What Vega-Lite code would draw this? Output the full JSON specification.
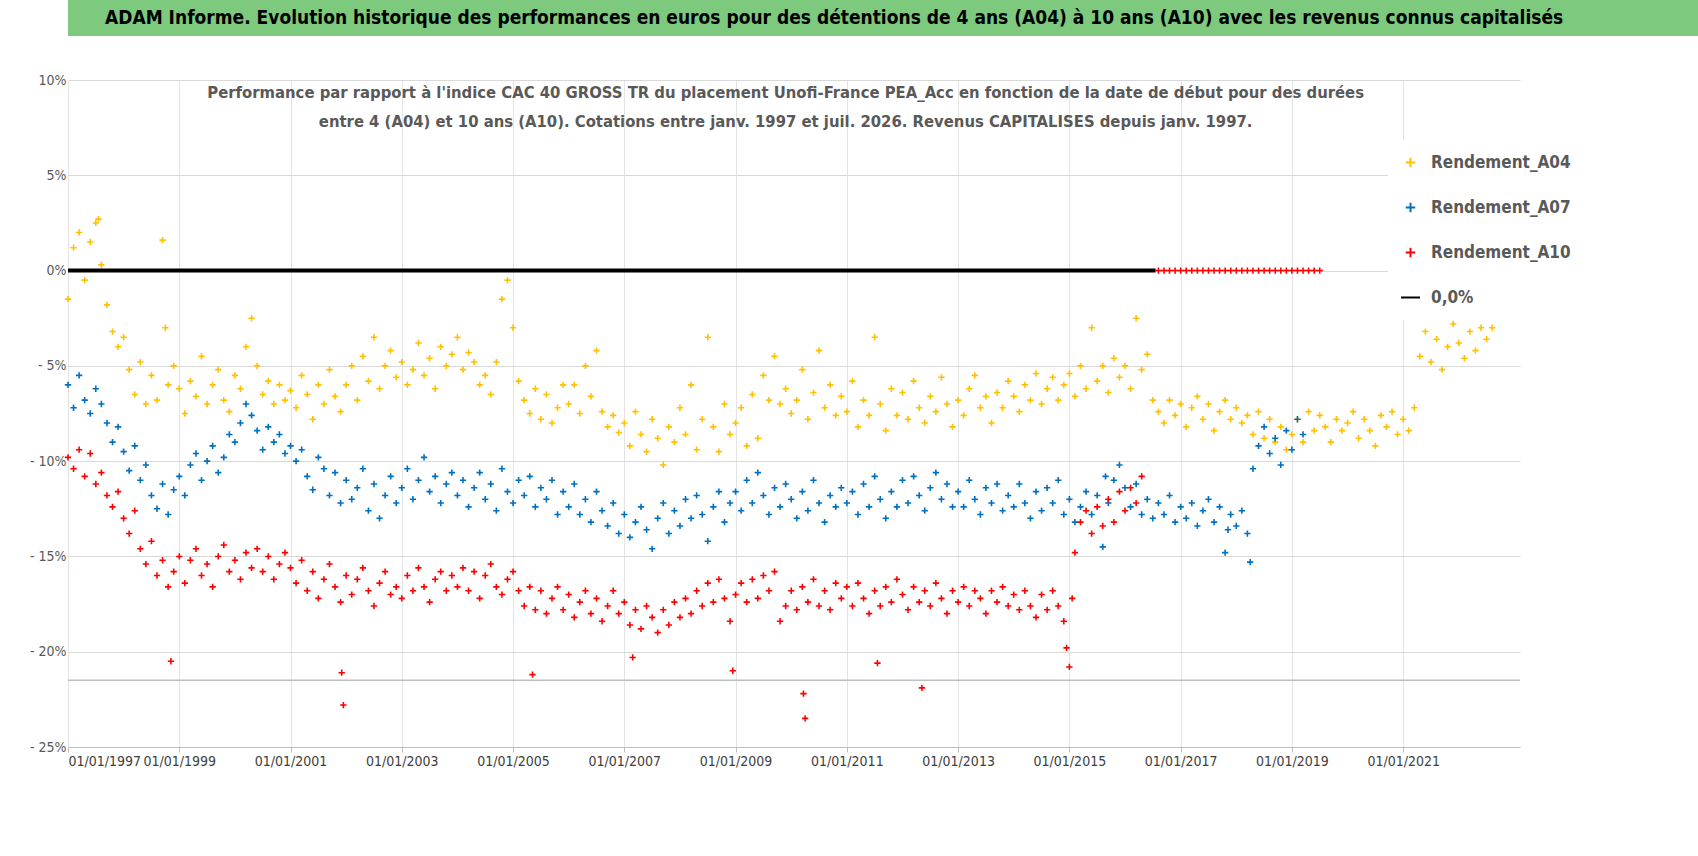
{
"$schema":"https://vega.github.io/schema/vega-lite/v6.json",
"padding":{"left":8,"top":0,"right":0,"bottom":0},
"background":"white",
"spacing":37,
"bounds":"full",
"align":"none",
"config":{"font":"DejaVu Sans Condensed","view":{"stroke":null}},
"datasets":{
"A04":[[1997.0,-1.5],[1997.1,1.2],[1997.2,2.0],[1997.3,-0.5],[1997.4,1.5],[1997.5,2.5],[1997.55,2.7],[1997.6,0.3],[1997.7,-1.8],[1997.8,-3.2],[1997.9,-4.0],[1998.0,-3.5],[1998.1,-5.2],[1998.2,-6.5],[1998.3,-4.8],[1998.4,-7.0],[1998.5,-5.5],[1998.6,-6.8],[1998.7,1.6],[1998.75,-3.0],[1998.8,-6.0],[1998.9,-5.0],[1999.0,-6.2],[1999.1,-7.5],[1999.2,-5.8],[1999.3,-6.6],[1999.4,-4.5],[1999.5,-7.0],[1999.6,-6.0],[1999.7,-5.2],[1999.8,-6.8],[1999.9,-7.4],[2000.0,-5.5],[2000.1,-6.2],[2000.2,-4.0],[2000.3,-2.5],[2000.4,-5.0],[2000.5,-6.5],[2000.6,-5.8],[2000.7,-7.0],[2000.8,-6.0],[2000.9,-6.8],[2001.0,-6.3],[2001.1,-7.2],[2001.2,-5.5],[2001.3,-6.5],[2001.4,-7.8],[2001.5,-6.0],[2001.6,-7.0],[2001.7,-5.2],[2001.8,-6.6],[2001.9,-7.4],[2002.0,-6.0],[2002.1,-5.0],[2002.2,-6.8],[2002.3,-4.5],[2002.4,-5.8],[2002.5,-3.5],[2002.6,-6.2],[2002.7,-5.0],[2002.8,-4.2],[2002.9,-5.6],[2003.0,-4.8],[2003.1,-6.0],[2003.2,-5.2],[2003.3,-3.8],[2003.4,-5.5],[2003.5,-4.6],[2003.6,-6.2],[2003.7,-4.0],[2003.8,-5.0],[2003.9,-4.4],[2004.0,-3.5],[2004.1,-5.2],[2004.2,-4.3],[2004.3,-4.8],[2004.4,-6.0],[2004.5,-5.5],[2004.6,-6.5],[2004.7,-4.8],[2004.8,-1.5],[2004.9,-0.5],[2005.0,-3.0],[2005.1,-5.8],[2005.2,-6.8],[2005.3,-7.5],[2005.4,-6.2],[2005.5,-7.8],[2005.6,-6.5],[2005.7,-8.0],[2005.8,-7.2],[2005.9,-6.0],[2006.0,-7.0],[2006.1,-6.0],[2006.2,-7.5],[2006.3,-5.0],[2006.4,-6.6],[2006.5,-4.2],[2006.6,-7.4],[2006.7,-8.2],[2006.8,-7.6],[2006.9,-8.5],[2007.0,-8.0],[2007.1,-9.2],[2007.2,-7.4],[2007.3,-8.6],[2007.4,-9.5],[2007.5,-7.8],[2007.6,-8.8],[2007.7,-10.2],[2007.8,-8.2],[2007.9,-9.0],[2008.0,-7.2],[2008.1,-8.6],[2008.2,-6.0],[2008.3,-9.4],[2008.4,-7.8],[2008.5,-3.5],[2008.6,-8.2],[2008.7,-9.5],[2008.8,-7.0],[2008.9,-8.6],[2009.0,-8.0],[2009.1,-7.2],[2009.2,-9.2],[2009.3,-6.5],[2009.4,-8.8],[2009.5,-5.5],[2009.6,-6.8],[2009.7,-4.5],[2009.8,-7.0],[2009.9,-6.2],[2010.0,-7.5],[2010.1,-6.8],[2010.2,-5.2],[2010.3,-7.8],[2010.4,-6.4],[2010.5,-4.2],[2010.6,-7.2],[2010.7,-6.0],[2010.8,-7.6],[2010.9,-6.6],[2011.0,-7.4],[2011.1,-5.8],[2011.2,-8.2],[2011.3,-6.8],[2011.4,-7.6],[2011.5,-3.5],[2011.6,-7.0],[2011.7,-8.4],[2011.8,-6.2],[2011.9,-7.6],[2012.0,-6.4],[2012.1,-7.8],[2012.2,-5.8],[2012.3,-7.2],[2012.4,-8.0],[2012.5,-6.6],[2012.6,-7.4],[2012.7,-5.6],[2012.8,-7.0],[2012.9,-8.2],[2013.0,-6.8],[2013.1,-7.6],[2013.2,-6.2],[2013.3,-5.5],[2013.4,-7.2],[2013.5,-6.6],[2013.6,-8.0],[2013.7,-6.4],[2013.8,-7.2],[2013.9,-5.8],[2014.0,-6.6],[2014.1,-7.4],[2014.2,-6.0],[2014.3,-6.8],[2014.4,-5.4],[2014.5,-7.0],[2014.6,-6.2],[2014.7,-5.6],[2014.8,-6.8],[2014.9,-6.0],[2015.0,-5.4],[2015.1,-6.6],[2015.2,-5.0],[2015.3,-6.2],[2015.4,-3.0],[2015.5,-5.8],[2015.6,-5.0],[2015.7,-6.4],[2015.8,-4.6],[2015.9,-5.6],[2016.0,-5.0],[2016.1,-6.2],[2016.2,-2.5],[2016.3,-5.2],[2016.4,-4.4],[2016.5,-6.8],[2016.6,-7.4],[2016.7,-8.0],[2016.8,-6.8],[2016.9,-7.6],[2017.0,-7.0],[2017.1,-8.2],[2017.2,-7.2],[2017.3,-6.6],[2017.4,-7.8],[2017.5,-7.0],[2017.6,-8.4],[2017.7,-7.4],[2017.8,-6.8],[2017.9,-7.8],[2018.0,-7.2],[2018.1,-8.0],[2018.2,-7.6],[2018.3,-8.6],[2018.4,-7.4],[2018.5,-8.8],[2018.6,-7.8],[2018.7,-9.0],[2018.8,-8.2],[2018.9,-9.4],[2019.0,-8.6],[2019.1,-7.8],[2019.2,-9.0],[2019.3,-7.4],[2019.4,-8.4],[2019.5,-7.6],[2019.6,-8.2],[2019.7,-9.0],[2019.8,-7.8],[2019.9,-8.4],[2020.0,-8.0],[2020.1,-7.4],[2020.2,-8.8],[2020.3,-7.8],[2020.4,-8.4],[2020.5,-9.2],[2020.6,-7.6],[2020.7,-8.2],[2020.8,-7.4],[2020.9,-8.6],[2021.0,-7.8],[2021.1,-8.4],[2021.2,-7.2],[2021.3,-4.5],[2021.4,-3.2],[2021.5,-4.8],[2021.6,-3.6],[2021.7,-5.2],[2021.8,-4.0],[2021.9,-2.8],[2022.0,-3.8],[2022.1,-4.6],[2022.2,-3.2],[2022.3,-4.2],[2022.4,-3.0],[2022.5,-3.6],[2022.6,-3.0]],
"A07":[[1997.0,-6.0],[1997.1,-7.2],[1997.2,-5.5],[1997.3,-6.8],[1997.4,-7.5],[1997.5,-6.2],[1997.6,-7.0],[1997.7,-8.0],[1997.8,-9.0],[1997.9,-8.2],[1998.0,-9.5],[1998.1,-10.5],[1998.2,-9.2],[1998.3,-11.0],[1998.4,-10.2],[1998.5,-11.8],[1998.6,-12.5],[1998.7,-11.2],[1998.8,-12.8],[1998.9,-11.5],[1999.0,-10.8],[1999.1,-11.8],[1999.2,-10.2],[1999.3,-9.6],[1999.4,-11.0],[1999.5,-10.0],[1999.6,-9.2],[1999.7,-10.6],[1999.8,-9.8],[1999.9,-8.6],[2000.0,-9.0],[2000.1,-8.0],[2000.2,-7.0],[2000.3,-7.6],[2000.4,-8.4],[2000.5,-9.4],[2000.6,-8.2],[2000.7,-9.0],[2000.8,-8.6],[2000.9,-9.6],[2001.0,-9.2],[2001.1,-10.0],[2001.2,-9.4],[2001.3,-10.8],[2001.4,-11.5],[2001.5,-9.8],[2001.6,-10.4],[2001.7,-11.8],[2001.8,-10.6],[2001.9,-12.2],[2002.0,-11.0],[2002.1,-12.0],[2002.2,-11.4],[2002.3,-10.4],[2002.4,-12.6],[2002.5,-11.2],[2002.6,-13.0],[2002.7,-11.8],[2002.8,-10.8],[2002.9,-12.2],[2003.0,-11.4],[2003.1,-10.4],[2003.2,-12.0],[2003.3,-11.0],[2003.4,-9.8],[2003.5,-11.6],[2003.6,-10.8],[2003.7,-12.2],[2003.8,-11.2],[2003.9,-10.6],[2004.0,-11.8],[2004.1,-11.0],[2004.2,-12.4],[2004.3,-11.4],[2004.4,-10.6],[2004.5,-12.0],[2004.6,-11.2],[2004.7,-12.6],[2004.8,-10.4],[2004.9,-11.6],[2005.0,-12.2],[2005.1,-11.0],[2005.2,-11.8],[2005.3,-10.8],[2005.4,-12.4],[2005.5,-11.4],[2005.6,-12.0],[2005.7,-11.0],[2005.8,-12.8],[2005.9,-11.6],[2006.0,-12.4],[2006.1,-11.2],[2006.2,-12.8],[2006.3,-12.0],[2006.4,-13.2],[2006.5,-11.6],[2006.6,-12.6],[2006.7,-13.4],[2006.8,-12.2],[2006.9,-13.8],[2007.0,-12.8],[2007.1,-14.0],[2007.2,-13.2],[2007.3,-12.4],[2007.4,-13.6],[2007.5,-14.6],[2007.6,-13.0],[2007.7,-12.2],[2007.8,-13.8],[2007.9,-12.6],[2008.0,-13.4],[2008.1,-12.0],[2008.2,-13.0],[2008.3,-11.8],[2008.4,-12.8],[2008.5,-14.2],[2008.6,-12.4],[2008.7,-11.6],[2008.8,-13.2],[2008.9,-12.2],[2009.0,-11.6],[2009.1,-12.6],[2009.2,-11.0],[2009.3,-12.2],[2009.4,-10.6],[2009.5,-11.8],[2009.6,-12.8],[2009.7,-11.4],[2009.8,-12.4],[2009.9,-11.2],[2010.0,-12.0],[2010.1,-13.0],[2010.2,-11.6],[2010.3,-12.6],[2010.4,-11.0],[2010.5,-12.2],[2010.6,-13.2],[2010.7,-11.8],[2010.8,-12.4],[2010.9,-11.4],[2011.0,-12.2],[2011.1,-11.6],[2011.2,-12.8],[2011.3,-11.2],[2011.4,-12.4],[2011.5,-10.8],[2011.6,-12.0],[2011.7,-13.0],[2011.8,-11.6],[2011.9,-12.4],[2012.0,-11.0],[2012.1,-12.2],[2012.2,-10.8],[2012.3,-11.8],[2012.4,-12.6],[2012.5,-11.4],[2012.6,-10.6],[2012.7,-12.0],[2012.8,-11.2],[2012.9,-12.4],[2013.0,-11.6],[2013.1,-12.4],[2013.2,-11.0],[2013.3,-12.0],[2013.4,-12.8],[2013.5,-11.4],[2013.6,-12.2],[2013.7,-11.2],[2013.8,-12.6],[2013.9,-11.8],[2014.0,-12.4],[2014.1,-11.2],[2014.2,-12.2],[2014.3,-13.0],[2014.4,-11.6],[2014.5,-12.6],[2014.6,-11.4],[2014.7,-12.2],[2014.8,-11.0],[2014.9,-12.8],[2015.0,-12.0],[2015.1,-13.2],[2015.2,-12.4],[2015.3,-11.6],[2015.4,-12.8],[2015.5,-11.8],[2015.6,-14.5],[2015.65,-10.8],[2015.7,-12.2],[2015.8,-11.0],[2015.9,-10.2],[2016.0,-11.4],[2016.1,-12.4],[2016.2,-11.2],[2016.3,-12.8],[2016.4,-12.0],[2016.5,-13.0],[2016.6,-12.2],[2016.7,-12.8],[2016.8,-11.8],[2016.9,-13.2],[2017.0,-12.4],[2017.1,-13.0],[2017.2,-12.2],[2017.3,-13.4],[2017.4,-12.6],[2017.5,-12.0],[2017.6,-13.2],[2017.7,-12.4],[2017.8,-14.8],[2017.85,-13.6],[2017.9,-12.8],[2018.0,-13.4],[2018.1,-12.6],[2018.2,-13.8],[2018.25,-15.3],[2018.3,-10.4],[2018.4,-9.2],[2018.5,-8.2],[2018.6,-9.6],[2018.7,-8.8],[2018.8,-10.2],[2018.9,-8.4],[2019.0,-9.4],[2019.1,-7.8],[2019.2,-8.6]],
"A10":[[1997.0,-9.8],[1997.1,-10.4],[1997.2,-9.4],[1997.3,-10.8],[1997.4,-9.6],[1997.5,-11.2],[1997.6,-10.6],[1997.7,-11.8],[1997.8,-12.4],[1997.9,-11.6],[1998.0,-13.0],[1998.1,-13.8],[1998.2,-12.6],[1998.3,-14.6],[1998.4,-15.4],[1998.5,-14.2],[1998.6,-16.0],[1998.7,-15.2],[1998.8,-16.6],[1998.85,-20.5],[1998.9,-15.8],[1999.0,-15.0],[1999.1,-16.4],[1999.2,-15.2],[1999.3,-14.6],[1999.4,-16.0],[1999.5,-15.4],[1999.6,-16.6],[1999.7,-15.0],[1999.8,-14.4],[1999.9,-15.8],[2000.0,-15.2],[2000.1,-16.2],[2000.2,-14.8],[2000.3,-15.6],[2000.4,-14.6],[2000.5,-15.8],[2000.6,-15.0],[2000.7,-16.2],[2000.8,-15.4],[2000.9,-14.8],[2001.0,-15.6],[2001.1,-16.4],[2001.2,-15.2],[2001.3,-16.8],[2001.4,-15.8],[2001.5,-17.2],[2001.6,-16.2],[2001.7,-15.4],[2001.8,-16.6],[2001.9,-17.4],[2001.92,-21.1],[2001.95,-22.8],[2002.0,-16.0],[2002.1,-17.0],[2002.2,-16.2],[2002.3,-15.6],[2002.4,-16.8],[2002.5,-17.6],[2002.6,-16.4],[2002.7,-15.8],[2002.8,-17.0],[2002.9,-16.6],[2003.0,-17.2],[2003.1,-16.0],[2003.2,-16.8],[2003.3,-15.6],[2003.4,-16.6],[2003.5,-17.4],[2003.6,-16.2],[2003.7,-15.8],[2003.8,-16.8],[2003.9,-16.0],[2004.0,-16.6],[2004.1,-15.6],[2004.2,-16.8],[2004.3,-15.8],[2004.4,-17.2],[2004.5,-16.0],[2004.6,-15.4],[2004.7,-16.6],[2004.8,-17.0],[2004.9,-16.2],[2005.0,-15.8],[2005.1,-16.8],[2005.2,-17.6],[2005.3,-16.6],[2005.35,-21.2],[2005.4,-17.8],[2005.5,-16.8],[2005.6,-18.0],[2005.7,-17.2],[2005.8,-16.6],[2005.9,-17.8],[2006.0,-17.0],[2006.1,-18.2],[2006.2,-17.4],[2006.3,-16.8],[2006.4,-18.0],[2006.5,-17.2],[2006.6,-18.4],[2006.7,-17.6],[2006.8,-16.8],[2006.9,-18.0],[2007.0,-17.4],[2007.1,-18.6],[2007.15,-20.3],[2007.2,-17.8],[2007.3,-18.8],[2007.4,-17.6],[2007.5,-18.2],[2007.6,-19.0],[2007.7,-17.8],[2007.8,-18.6],[2007.9,-17.4],[2008.0,-18.2],[2008.1,-17.2],[2008.2,-18.0],[2008.3,-16.8],[2008.4,-17.6],[2008.5,-16.4],[2008.6,-17.4],[2008.7,-16.2],[2008.8,-17.2],[2008.9,-18.4],[2008.95,-21.0],[2009.0,-17.0],[2009.1,-16.4],[2009.2,-17.4],[2009.3,-16.2],[2009.4,-17.2],[2009.5,-16.0],[2009.6,-16.8],[2009.7,-15.8],[2009.8,-18.4],[2009.9,-17.6],[2010.0,-16.8],[2010.1,-17.8],[2010.2,-16.6],[2010.22,-22.2],[2010.25,-23.5],[2010.3,-17.4],[2010.4,-16.2],[2010.5,-17.6],[2010.6,-16.8],[2010.7,-17.8],[2010.8,-16.4],[2010.9,-17.2],[2011.0,-16.6],[2011.1,-17.6],[2011.2,-16.4],[2011.3,-17.2],[2011.4,-18.0],[2011.5,-16.8],[2011.55,-20.6],[2011.6,-17.6],[2011.7,-16.6],[2011.8,-17.4],[2011.9,-16.2],[2012.0,-17.0],[2012.1,-17.8],[2012.2,-16.6],[2012.3,-17.4],[2012.35,-21.9],[2012.4,-16.8],[2012.5,-17.6],[2012.6,-16.4],[2012.7,-17.2],[2012.8,-18.0],[2012.9,-16.8],[2013.0,-17.4],[2013.1,-16.6],[2013.2,-17.6],[2013.3,-16.8],[2013.4,-17.2],[2013.5,-18.0],[2013.6,-16.8],[2013.7,-17.4],[2013.8,-16.6],[2013.9,-17.6],[2014.0,-17.0],[2014.1,-17.8],[2014.2,-16.8],[2014.3,-17.6],[2014.4,-18.2],[2014.5,-17.0],[2014.6,-17.8],[2014.7,-16.8],[2014.8,-17.6],[2014.9,-18.4],[2014.95,-19.8],[2015.0,-20.8],[2015.05,-17.2],[2015.1,-14.8],[2015.2,-13.2],[2015.3,-12.6],[2015.4,-13.8],[2015.5,-12.4],[2015.6,-13.4],[2015.7,-12.0],[2015.8,-13.2],[2015.9,-11.6],[2016.0,-12.6],[2016.1,-11.4],[2016.2,-12.2],[2016.3,-10.8],[2016.6,0],[2016.7,0],[2016.8,0],[2016.9,0],[2017.0,0],[2017.1,0],[2017.2,0],[2017.3,0],[2017.4,0],[2017.5,0],[2017.6,0],[2017.7,0],[2017.8,0],[2017.9,0],[2018.0,0],[2018.1,0],[2018.2,0],[2018.3,0],[2018.4,0],[2018.5,0],[2018.6,0],[2018.7,0],[2018.8,0],[2018.9,0],[2019.0,0],[2019.1,0],[2019.2,0],[2019.3,0],[2019.4,0],[2019.5,0],[2023.0,0]]
},
"vconcat":[
{"width":1630,"height":36,"view":{"fill":"#7dc97d","stroke":null},
 "data":{"values":[{"x":0.47,"txt":"ADAM Informe. Evolution historique des performances en euros pour des détentions de 4 ans (A04) à 10 ans (A10) avec les revenus connus capitalisés"}]},
 "mark":{"type":"text","fontSize":19,"fontWeight":"bold","color":"black","align":"center","baseline":"middle"},
 "encoding":{"x":{"field":"x","type":"quantitative","scale":{"domain":[0,1]},"axis":null},"text":{"field":"txt"}}},
{"width":1452,"height":667,
 "encoding":{
  "x":{"field":"t","type":"quantitative","scale":{"domain":[1997,2023.1],"nice":false,"zero":false},
   "axis":{"title":null,"values":[1997,1999,2001,2003,2005,2007,2009,2011,2013,2015,2017,2019,2021],"labelExpr":"'01/01/'+datum.value","labelFontSize":14,"labelColor":"#404040","gridColor":"#e4e4e4","domainColor":"#bfbfbf","tickColor":"#bfbfbf"}},
  "y":{"field":"v","type":"quantitative","scale":{"domain":[-25,10],"nice":false},
   "axis":{"title":null,"values":[10,5,0,-5,-10,-15,-20,-25],"labelExpr":"datum.value<0 ? '- '+format(-datum.value,'d')+'%' : format(datum.value,'d')+'%'","labelFontSize":14,"labelColor":"#595959","gridColor":"#d9d9d9","domain":false,"ticks":false,"minExtent":60,"maxExtent":60}}
 },
 "layer":[
  {"data":{"values":[{"v":-21.5}]},"mark":{"type":"rule","color":"#bfbfbf","strokeWidth":1.5},"encoding":{"x":{"value":0},"x2":{"value":1452},"y":{"field":"v","type":"quantitative"}}},
  {"data":{"name":"A04"},"transform":[{"calculate":"datum[0]","as":"t"},{"calculate":"datum[1]","as":"v"},{"calculate":"'A04'","as":"s"}],
   "mark":{"type":"point","filled":false,"size":40,"strokeWidth":1.6,"opacity":1},
   "encoding":{"color":{"field":"s","type":"nominal","scale":{"domain":["A04","A07","A10","0,0%"],"range":["#ffc000","#0070c0","#ff0000","black"]},
     "legend":{"title":null,"orient":"none","legendX":1320,"legendY":140,"fillColor":"white","padding":14,"labelExpr":"datum.label=='0,0%' ? '0,0%' : 'Rendement_'+datum.label","labelFontSize":17,"labelFontWeight":"bold","labelColor":"#595959","rowPadding":26,"symbolSize":90,"symbolStrokeWidth":2,"labelOffset":12}},
    "shape":{"field":"s","type":"nominal","scale":{"domain":["A04","A07","A10","0,0%"],"range":["M-1,0H1M0,-1V1","M-1,0H1M0,-1V1","M-1,0H1M0,-1V1","M-2,0H2"]}}}},
  {"data":{"name":"A07"},"transform":[{"calculate":"datum[0]","as":"t"},{"calculate":"datum[1]","as":"v"},{"calculate":"'A07'","as":"s"}],
   "mark":{"type":"point","filled":false,"size":40,"strokeWidth":1.6,"opacity":1},
   "encoding":{"color":{"field":"s","type":"nominal"},"shape":{"field":"s","type":"nominal"}}},
  {"data":{"values":[{"t":1997,"v":0},{"t":2016.55,"v":0}]},"mark":{"type":"line","color":"black","strokeWidth":4},"encoding":{}},
  {"data":{"name":"A10"},"transform":[{"calculate":"datum[0]","as":"t"},{"calculate":"datum[1]","as":"v"},{"calculate":"'A10'","as":"s"}],
   "mark":{"type":"point","filled":false,"size":40,"strokeWidth":1.6,"opacity":1},
   "encoding":{"color":{"field":"s","type":"nominal"},"shape":{"field":"s","type":"nominal"}}},
  {"data":{"values":[{"t":2009.9,"v":9.3,"txt":"Performance par rapport à l'indice CAC 40 GROSS TR  du placement Unofi-France PEA_Acc en fonction de la date de début pour des durées"},{"t":2009.9,"v":7.8,"txt":"entre 4 (A04) et 10 ans (A10).  Cotations entre janv. 1997 et juil. 2026. Revenus  CAPITALISES  depuis janv. 1997."}]},
   "mark":{"type":"text","fontSize":16.5,"fontWeight":"bold","color":"#595959","align":"center","baseline":"middle"},
   "encoding":{"text":{"field":"txt"}}}
 ]}
]
}
